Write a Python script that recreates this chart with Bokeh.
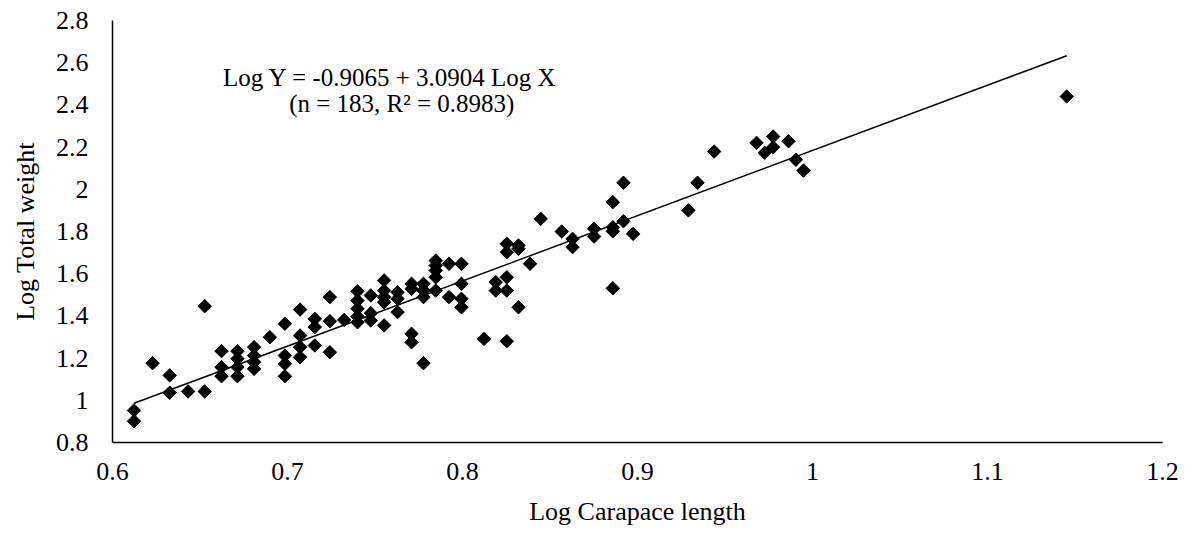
import math
from bokeh.plotting import figure
from bokeh.models import FixedTicker, Label, Range1d
from bokeh.embed import file_html
from bokeh.resources import INLINE

# Log carapace length (x) and log total weight (y)
log_cl = [0.6123, 0.6123, 0.6229, 0.6327, 0.6327, 0.6432, 0.6527, 0.6527,
          0.6623, 0.6623, 0.6623, 0.6714, 0.6714, 0.6714, 0.6714,
          0.6809, 0.6809, 0.6809, 0.6809, 0.6899, 0.6985, 0.6985, 0.6985, 0.6985,
          0.7072, 0.7072, 0.7072, 0.7072, 0.7156, 0.7156, 0.7156,
          0.7242, 0.7242, 0.7242, 0.7324, 0.74, 0.74, 0.74, 0.74, 0.74,
          0.7476, 0.7476, 0.7476, 0.7552, 0.7552, 0.7552, 0.7552, 0.7552,
          0.7629, 0.7629, 0.7629, 0.7709, 0.7709, 0.7709, 0.7709,
          0.7777, 0.7777, 0.7777, 0.7777, 0.7847, 0.7847, 0.7847, 0.7847, 0.7847,
          0.7923, 0.7923, 0.7994, 0.7994, 0.7994, 0.7994, 0.8123,
          0.819, 0.819, 0.8253, 0.8253, 0.8253, 0.8253, 0.8253,
          0.832, 0.832, 0.832, 0.8386, 0.8447, 0.8567, 0.8629, 0.8629,
          0.8752, 0.8752, 0.8859, 0.8859, 0.8859, 0.8859, 0.892, 0.892, 0.8975,
          0.9291, 0.9343, 0.9438, 0.968, 0.9727, 0.9775, 0.9775, 0.9863,
          0.9905, 0.9949, 1.1453]
log_tw = [0.952, 0.901, 1.176, 1.118, 1.036, 1.042, 1.042, 1.446,
          1.233, 1.157, 1.114, 1.233, 1.197, 1.157, 1.114,
          1.252, 1.212, 1.181, 1.149, 1.299, 1.363, 1.212, 1.173, 1.114,
          1.430, 1.307, 1.252, 1.204, 1.386, 1.347, 1.260,
          1.489, 1.375, 1.228, 1.381, 1.517, 1.473, 1.434, 1.397, 1.370,
          1.497, 1.413, 1.378, 1.568, 1.520, 1.489, 1.465, 1.355,
          1.512, 1.481, 1.418, 1.552, 1.528, 1.315, 1.275,
          1.552, 1.520, 1.489, 1.176, 1.662, 1.639, 1.615, 1.583, 1.520,
          1.647, 1.489, 1.647, 1.552, 1.481, 1.441, 1.291,
          1.560, 1.520, 1.742, 1.702, 1.583, 1.520, 1.280,
          1.734, 1.718, 1.441, 1.647, 1.860, 1.800, 1.765, 1.726,
          1.813, 1.776, 1.939, 1.820, 1.801, 1.531, 2.031, 1.849, 1.789,
          1.900, 2.031, 2.179, 2.220, 2.173, 2.250, 2.199, 2.228,
          2.140, 2.089, 2.440]

# Regression coefficients (from the chart's equation)
intercept = -0.9065
slope = 3.0904

x_ticks = [0.6, 0.7, 0.8, 0.9, 1.0, 1.1, 1.2]
x_tick_labels = ["0.6", "0.7", "0.8", "0.9", "1", "1.1", "1.2"]
y_ticks = [0.8, 1.0, 1.2, 1.4, 1.6, 1.8, 2.0, 2.2, 2.4, 2.6, 2.8]
y_tick_labels = ["0.8", "1", "1.2", "1.4", "1.6", "1.8", "2", "2.2", "2.4", "2.6", "2.8"]

eq_line1 = "Log Y = -0.9065 + 3.0904 Log X"
eq_line2 = "(n = 183, R\u00b2 = 0.8983)"

FONT = "Liberation Serif"

p = figure(width=1189, height=537, output_backend="svg", toolbar_location=None,
           x_range=Range1d(0.6, 1.2), y_range=Range1d(0.8, 2.8),
           min_border_left=112, min_border_right=27, min_border_top=20, min_border_bottom=95)
p.outline_line_color = None
p.background_fill_color = "white"
p.border_fill_color = "white"
p.xgrid.visible = False
p.ygrid.visible = False

for ax, ticks, labels in ((p.xaxis[0], x_ticks, x_tick_labels), (p.yaxis[0], y_ticks, y_tick_labels)):
    ax.ticker = FixedTicker(ticks=ticks)
    ax.major_label_overrides = dict(zip(ticks, labels))
    ax.major_tick_line_color = None
    ax.minor_tick_line_color = None
    ax.major_tick_out = 0
    ax.major_tick_in = 0
    ax.axis_line_color = "black"
    ax.axis_line_width = 1.5
    ax.major_label_text_font = FONT
    ax.major_label_text_font_size = "26px"
    ax.major_label_text_color = "black"
    ax.axis_label_text_font = FONT
    ax.axis_label_text_font_size = "26px"
    ax.axis_label_text_font_style = "normal"
    ax.axis_label_text_color = "black"

p.xaxis.axis_label = "Log Carapace length"
p.yaxis.axis_label = "Log Total weight"
p.xaxis.major_label_standoff = 20
p.yaxis.major_label_standoff = 24
p.xaxis.axis_label_standoff = 14
p.yaxis.axis_label_standoff = 13

# regression line from the equation over the observed x range
lx = [min(log_cl), max(log_cl)]
ly = [intercept + slope * v for v in lx]
p.line(lx, ly, line_color="black", line_width=1.5)

p.scatter(log_cl, log_tw, marker="square", size=9.5, angle=math.pi / 4,
          fill_color="black", line_color="black")

p.add_layout(Label(x=0.7587, y=2.530, text=eq_line1, text_align="center", text_baseline="middle",
                   text_font=FONT, text_font_size="25px", text_color="black"))
p.add_layout(Label(x=0.7653, y=2.407, text=eq_line2, text_align="center", text_baseline="middle",
                   text_font=FONT, text_font_size="25px", text_color="black"))

open("out.html", "w").write(file_html(p, INLINE))
